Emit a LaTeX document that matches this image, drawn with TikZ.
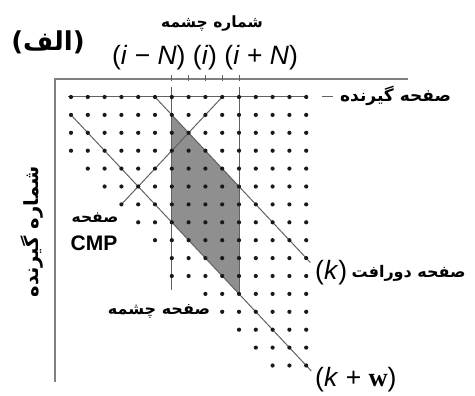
\documentclass[tikz,border=0pt]{standalone}
\usepackage{fontspec}
\setmainfont{Liberation Sans}
\newfontfamily\fa[Script=Arabic]{DejaVu Sans}
\newfontfamily\serifw{Liberation Serif}
\TeXXeTstate=1
\definecolor{dotc}{gray}{0.1}
\definecolor{linec}{gray}{0.38}
\definecolor{axisc}{gray}{0.5}
\definecolor{shadec}{gray}{0.56}
\newcommand{\fasz}[1]{\fa\bfseries\fontsize{#1}{#1}\selectfont}
\begin{document}
\begin{tikzpicture}[x=1pt,y=-1pt,
  axisline/.style={draw=axisc,line width=1.2pt},
  gline/.style={draw=linec,line width=1pt},
  tickline/.style={draw=linec,line width=0.9pt},
  dotmark/.style={fill=dotc},
  falab/.style={inner sep=0pt},
  latlab/.style={font=\fontsize{26.5}{28}\selectfont, inner sep=0pt}]
\useasboundingbox (0,0) rectangle (475,396);
% axes
\coordinate (O) at (55,79);
\coordinate (AxR) at (408,79);
\coordinate (AxB) at (55,382);
\draw[axisline] (AxR) -- (O) -- (AxB);
% grid in grid units
\begin{scope}[shift={(71,97)}, x=16.8pt, y=-17.9pt]
  \coordinate (S1) at (6,1);
  \coordinate (S2) at (10,5);
  \coordinate (S3) at (10,11);
  \coordinate (S4) at (6,7);
  \fill[shadec] (S1) -- (S2) -- (S3) -- (S4) -- cycle;
  % ticks on top axis
  \foreach \c in {6,...,10} {
    \coordinate (T\c a) at (\c,-1.22);
    \coordinate (T\c b) at (\c,-0.88);
    \draw[tickline] (T\c a) -- (T\c b);
  }
  % source-plane verticals
  \coordinate (Va1) at (6,-0.55);
  \coordinate (Va2) at (6,10.8);
  \coordinate (Vb1) at (10,-0.55);
  \coordinate (Vb2) at (10,11);
  \draw[gline] (Va1) -- (Va2);
  \draw[gline] (Vb1) -- (Vb2);
  % receiver row line and leader dash
  \coordinate (H1) at (-0.2,0);
  \coordinate (H2) at (14.1,0);
  \draw[gline] (H1) -- (H2);
  \coordinate (D1) at (14.95,0);
  \coordinate (D2) at (15.6,0);
  \draw[gline] (D1) -- (D2);
  % diagonals
  \coordinate (A1) at (5,0);
  \coordinate (A2) at (14.25,9.25);
  \draw[gline] (A1) -- (A2);
  \coordinate (B1) at (0,1);
  \coordinate (B2) at (14.3,15.3);
  \draw[gline] (B1) -- (B2);
  \coordinate (C1) at (3,6);
  \coordinate (C2) at (9,0);
  \draw[gline] (C1) -- (C2);
  % dots
  \foreach \r in {0,...,15} {
    \pgfmathtruncatemacro{\cs}{max(0,\r-3)}
    \foreach \c in {\cs,...,14} {
      \fill[dotmark] (\c,\r) circle (2.1pt);
    }
  }
  \fill[dotmark] (6,10) circle (2.1pt);
\end{scope}
% labels
\node[falab, font=\fasz{26}] (alef) at (48,42) {\beginR (الف)\endR};
\node[falab, font=\fasz{15.5}] (srcnum) at (212,24) {\beginR شماره چشمه\endR};
\node[latlab] (ilab) at (205,58) {(\textit{i} − \textit{N}) (\textit{i}) (\textit{i} + \textit{N})};
\node[falab, font=\fasz{17}, anchor=west] (recplane) at (340,96) {\beginR صفحه گیرنده\endR};
\node[latlab, anchor=west] (klab) at (315,273) {(\textit{k})};
\node[falab, font=\fasz{16}, anchor=west] (offplane) at ([xshift=4pt]klab.east) {\beginR صفحه دورافت\endR};
\node[latlab, anchor=west] (kwlab) at (315,380) {(\textit{k} + {\serifw\bfseries w})};
\node[falab, font=\fasz{15.5}] (cmpfa) at (95,218) {\beginR صفحه\endR};
\node[inner sep=0pt, font=\bfseries\fontsize{21}{23}\selectfont] (cmp) at (94,243) {CMP};
\node[falab, font=\fasz{16}] (srcplane) at (159,311) {\beginR صفحه چشمه\endR};
\node[falab, font=\fasz{19.5}, rotate=90] (recnum) at (32,232) {\beginR شماره گیرنده\endR};
\end{tikzpicture}
\end{document}
